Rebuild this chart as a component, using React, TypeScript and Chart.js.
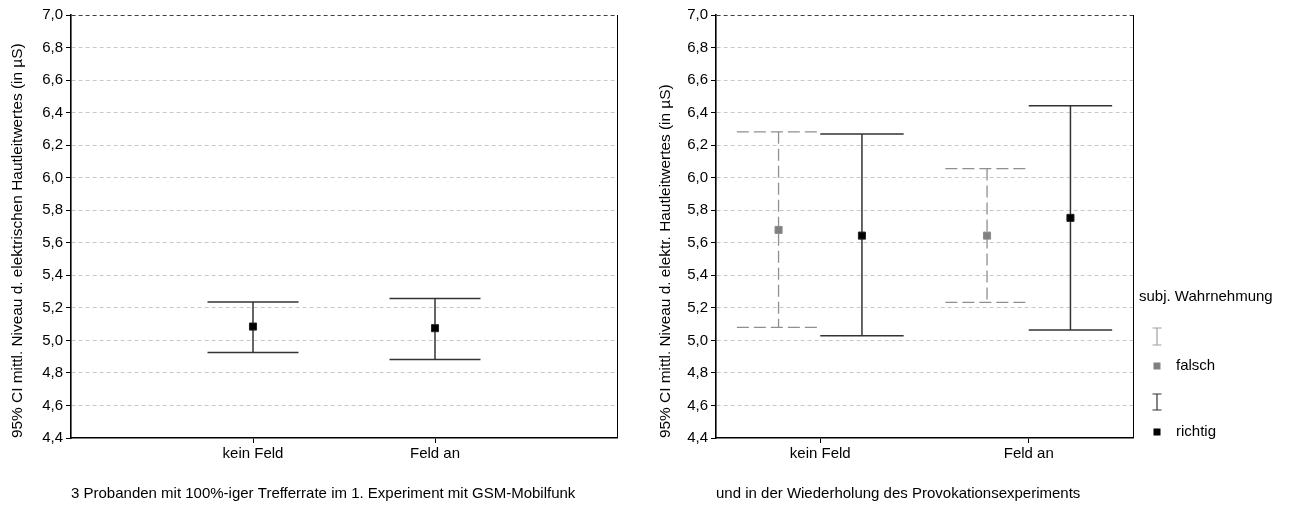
import React, { useEffect, useRef } from 'react';
import { Chart, registerables } from 'chart.js';

Chart.register(...registerables);

const FONT = "'Liberation Sans', Arial, Helvetica, sans-serif";
const FONT_SIZE = 15;

// ---- data ----
const categories = ['kein Feld', 'Feld an'];
const yTicks = [4.4, 4.6, 4.8, 5.0, 5.2, 5.4, 5.6, 5.8, 6.0, 6.2, 6.4, 6.6, 6.8, 7.0];

const leftMean = [5.085, 5.075];
const leftLow = [4.926, 4.883];
const leftHigh = [5.236, 5.258];

const falschMean = [5.679, 5.644];
const falschLow = [5.08, 5.234];
const falschHigh = [6.282, 6.056];

const richtigMean = [5.644, 5.753];
const richtigLow = [5.029, 5.064];
const richtigHigh = [6.268, 6.442];

const groupLabels = ['falsch', 'richtig'];
const legendTitle = 'subj. Wahrnehmung';
const leftYTitle = '95% CI mittl. Niveau d. elektrischen Hautleitwertes (in µS)';
const rightYTitle = '95% CI mittl. Niveau d. elektr. Hautleitwertes (in µS)';
const leftCaption = '3 Probanden mit 100%-iger Trefferrate im 1. Experiment mit GSM-Mobilfunk';
const rightCaption = 'und in der Wiederholung des Provokationsexperiments';

// ---- styles ----
const DARK = '#333333';
const GRAY = '#8f8f8f';
const GRAY_PT = '#808080';

const font = { family: FONT, size: FONT_SIZE };

const errorBarPlugin = {
  id: 'errorBars',
  beforeDatasetsDraw(chart: any) {
    const { ctx } = chart;
    const x = chart.scales.x;
    const y = chart.scales.y;
    chart.data.datasets.forEach((ds: any) => {
      if (!ds.errLow) return;
      ctx.save();
      ctx.strokeStyle = ds.errColor;
      ctx.lineWidth = ds.errWidth;
      ctx.setLineDash(ds.errDash || []);
      ds.data.forEach((pt: any, i: number) => {
        const px = x.getPixelForValue(pt.x);
        const x0 = x.getPixelForValue(pt.x - ds.capHalf);
        const x1 = x.getPixelForValue(pt.x + ds.capHalf);
        const yl = y.getPixelForValue(ds.errLow[i]);
        const yh = y.getPixelForValue(ds.errHigh[i]);
        ctx.beginPath();
        ctx.moveTo(x0, yh);
        ctx.lineTo(x1, yh);
        ctx.stroke();
        ctx.beginPath();
        ctx.moveTo(x0, yl);
        ctx.lineTo(x1, yl);
        ctx.stroke();
        ctx.beginPath();
        ctx.moveTo(px, yh);
        ctx.lineTo(px, yl);
        ctx.stroke();
      });
      ctx.restore();
    });
  },
};

const framePlugin = {
  id: 'rightFrame',
  beforeDatasetsDraw(chart: any) {
    const { ctx, chartArea } = chart;
    ctx.save();
    ctx.strokeStyle = '#000';
    ctx.lineWidth = 1;
    ctx.beginPath();
    ctx.moveTo(Math.round(chartArea.right) + 0.5, chartArea.top);
    ctx.lineTo(Math.round(chartArea.right) + 0.5, chartArea.bottom);
    ctx.stroke();
    ctx.restore();
  },
};

const sideLegendPlugin = {
  id: 'sideLegend',
  afterDraw(chart: any, _args: any, opts: any) {
    if (!opts || !opts.show) return;
    const { ctx, chartArea } = chart;
    const r = chartArea.right;
    ctx.save();
    ctx.font = `${FONT_SIZE}px ${FONT}`;
    ctx.fillStyle = '#000';
    ctx.textBaseline = 'middle';
    ctx.textAlign = 'left';
    ctx.fillText(legendTitle, r + 6, 297);
    const items = [
      { color: '#a0a0a0', pt: GRAY_PT, top: 328, bottom: 345, sq: 366 },
      { color: DARK, pt: '#000000', top: 394, bottom: 410, sq: 432 },
    ];
    items.forEach((it, i) => {
      const cx = r + 24;
      ctx.strokeStyle = it.color;
      ctx.lineWidth = 1.2;
      ctx.beginPath();
      ctx.moveTo(cx - 4.5, it.top);
      ctx.lineTo(cx + 4.5, it.top);
      ctx.moveTo(cx, it.top);
      ctx.lineTo(cx, it.bottom);
      ctx.moveTo(cx - 4.5, it.bottom);
      ctx.lineTo(cx + 4.5, it.bottom);
      ctx.stroke();
      ctx.fillStyle = it.pt;
      ctx.fillRect(cx - 3.5, it.sq - 3.5, 7, 7);
      ctx.fillStyle = '#000';
      ctx.fillText(groupLabels[i], r + 43, it.sq);
    });
    ctx.restore();
  },
};

function makeScales(o: { xMax: number; xPos: (i: number) => number; yWidth: number; yTitle: string; titlePad: number; caption: string }) {
  return {
    x: {
      type: 'linear',
      min: 0,
      max: o.xMax,
      afterBuildTicks: (s: any) => {
        s.ticks = categories.map((_, i) => ({ value: o.xPos(i) }));
      },
      afterFit: (s: any) => {
        s.height = 68;
      },
      ticks: {
        callback: (_v: any, i: number) => categories[i],
        font,
        color: '#000',
        padding: 2,
        maxRotation: 0,
        autoSkip: false,
      },
      grid: {
        display: true,
        drawOnChartArea: false,
        drawTicks: true,
        tickLength: 5,
        tickColor: '#000',
        tickWidth: 1,
      },
      border: { display: true, color: '#000', width: 1.5 },
      title: {
        display: true,
        text: o.caption,
        align: 'start',
        font,
        color: '#000',
        padding: { top: 0, bottom: 3 },
      },
    },
    y: {
      type: 'linear',
      min: 4.4,
      max: 7.0,
      afterBuildTicks: (s: any) => {
        s.ticks = yTicks.map((v) => ({ value: v }));
      },
      afterFit: (s: any) => {
        s.width = o.yWidth;
      },
      ticks: {
        callback: (v: any) => Number(v).toFixed(1).replace('.', ','),
        font,
        color: '#000',
        padding: 3,
      },
      grid: {
        color: (c: any) => {
          if (!c.tick) return '#c8c8c8';
          if (Math.abs(c.tick.value - 7) < 1e-6) return '#404040';
          if (Math.abs(c.tick.value - 4.4) < 1e-6) return 'rgba(0,0,0,0)';
          return '#c8c8c8';
        },
        lineWidth: 1,
        tickLength: 5,
        tickColor: '#000',
        tickWidth: 1,
        tickBorderDash: [],
      },
      border: { display: true, color: '#000', width: 1.6, dash: [4, 3] },
      title: {
        display: true,
        text: o.yTitle,
        align: 'start',
        font: { family: FONT, size: 15.4 },
        color: '#000',
        padding: { top: o.titlePad, bottom: 0 },
      },
    },
  };
}

function LeftChart() {
  const ref = useRef<HTMLCanvasElement>(null);
  useEffect(() => {
    const xPos = (i: number) => i + 1;
    const chart = new Chart(ref.current as HTMLCanvasElement, {
      type: 'scatter',
      data: {
        datasets: [
          {
            data: categories.map((_, i) => ({ x: xPos(i), y: leftMean[i] })),
            pointStyle: 'rect',
            pointRadius: 5,
            backgroundColor: '#000',
            borderColor: '#222',
            borderWidth: 1,
            errLow: leftLow,
            errHigh: leftHigh,
            capHalf: 0.25,
            errColor: DARK,
            errWidth: 1.5,
            errDash: [],
          } as any,
        ],
      },
      options: {
        animation: false,
        responsive: false,
        layout: { padding: { top: 15, right: 33, bottom: 0, left: 0 } },
        plugins: { legend: { display: false }, tooltip: { enabled: false } },
        scales: makeScales({ xMax: 3, xPos, yWidth: 71, yTitle: leftYTitle, titlePad: 9, caption: leftCaption }) as any,
      },
      plugins: [errorBarPlugin, framePlugin],
    });
    return () => chart.destroy();
  }, []);
  return <canvas ref={ref} width={650} height={506} style={{ position: 'absolute', left: 0, top: 0 }} />;
}

function RightChart() {
  const ref = useRef<HTMLCanvasElement>(null);
  useEffect(() => {
    const xPos = (i: number) => i + 0.5;
    const groupOffset = 0.2;
    const chart = new Chart(ref.current as HTMLCanvasElement, {
      type: 'scatter',
      data: {
        datasets: [
          {
            label: groupLabels[0],
            data: categories.map((_, i) => ({ x: xPos(i) - groupOffset, y: falschMean[i] })),
            pointStyle: 'rect',
            pointRadius: 5,
            backgroundColor: GRAY_PT,
            borderColor: '#8c8c8c',
            borderWidth: 1,
            errLow: falschLow,
            errHigh: falschHigh,
            capHalf: 0.2,
            errColor: GRAY,
            errWidth: 1.3,
            errDash: [12, 5],
          } as any,
          {
            label: groupLabels[1],
            data: categories.map((_, i) => ({ x: xPos(i) + groupOffset, y: richtigMean[i] })),
            pointStyle: 'rect',
            pointRadius: 5,
            backgroundColor: '#000',
            borderColor: '#222',
            borderWidth: 1,
            errLow: richtigLow,
            errHigh: richtigHigh,
            capHalf: 0.2,
            errColor: DARK,
            errWidth: 1.5,
            errDash: [],
          } as any,
        ],
      },
      options: {
        animation: false,
        responsive: false,
        layout: { padding: { top: 15, right: 157, bottom: 0, left: 0 } },
        plugins: {
          legend: { display: false },
          tooltip: { enabled: false },
          sideLegend: { show: true },
        } as any,
        scales: makeScales({ xMax: 2, xPos, yWidth: 76, yTitle: rightYTitle, titlePad: 17, caption: rightCaption }) as any,
      },
      plugins: [errorBarPlugin, framePlugin, sideLegendPlugin],
    });
    return () => chart.destroy();
  }, []);
  return <canvas ref={ref} width={650} height={506} style={{ position: 'absolute', left: 640, top: 0 }} />;
}

export default function App() {
  return (
    <div style={{ position: 'fixed', left: 0, top: 0, width: 1290, height: 506, background: '#fff', overflow: 'hidden' }}>
      <LeftChart />
      <RightChart />
    </div>
  );
}
